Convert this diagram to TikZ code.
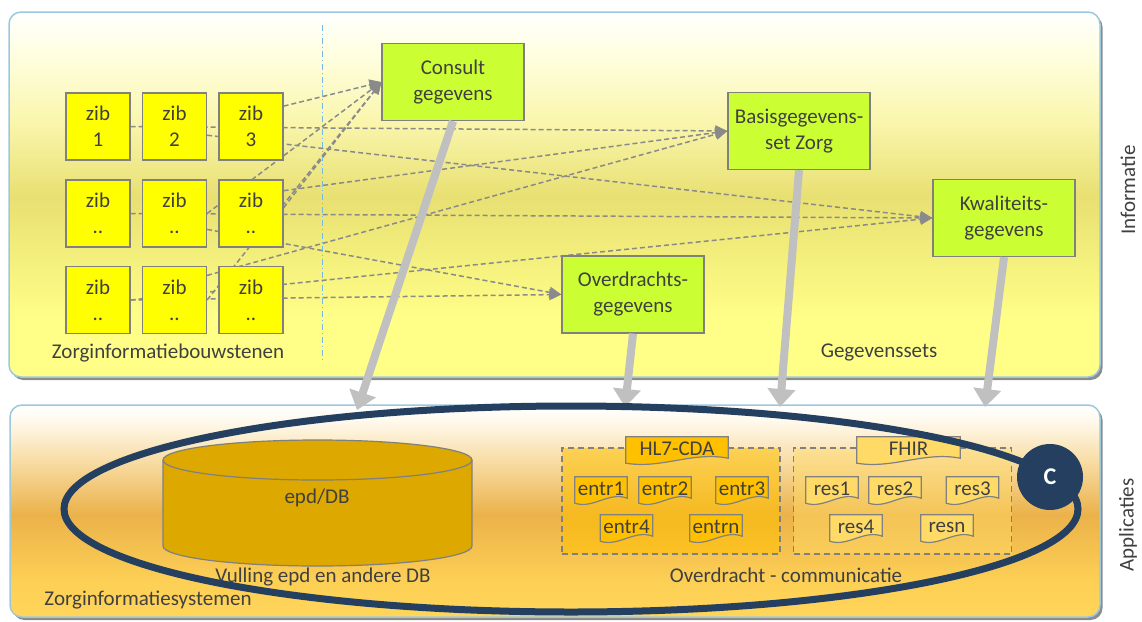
\documentclass[tikz,border=0pt]{standalone}
\usepackage{fontspec}
\setmainfont{Carlito}
\usepackage{xcolor}
\usetikzlibrary{positioning,calc,arrows.meta,shadows}

\definecolor{txtgray}{HTML}{404040}
\definecolor{zibyellow}{HTML}{FFFF00}
\definecolor{setgreen}{HTML}{CCFF33}
\definecolor{edgegray}{HTML}{808080}
\definecolor{linkgray}{HTML}{8A8A8A}
\definecolor{fatgray}{HTML}{C0C0C0}
\definecolor{navy}{HTML}{243F60}
\definecolor{dbgold}{HTML}{DDA800}
\definecolor{hlgold}{HTML}{FFC000}
\definecolor{fhirgold}{HTML}{FFDA66}
\definecolor{panelblue}{HTML}{9CC8DE}
\definecolor{sepblue}{HTML}{74B9E6}
\definecolor{infoA}{HTML}{FFFF88}
\definecolor{infoB}{HTML}{E8E072}
\definecolor{infoC}{HTML}{FAF6AE}
\definecolor{infoD}{HTML}{FFFFE4}
\definecolor{appA}{HTML}{FFD55A}
\definecolor{appB}{HTML}{FDCF55}
\definecolor{appC}{HTML}{EBB24A}
\definecolor{appD}{HTML}{F8DDA6}
\definecolor{appE}{HTML}{FFFAEE}

\pgfdeclareverticalshading{infoshade}{100bp}{color(0bp)=(infoA); color(25bp)=(infoA); color(32.8bp)=(infoA); color(49.7bp)=(infoB); color(60.2bp)=(infoC); color(69.8bp)=(infoD); color(75bp)=(white); color(100bp)=(white)}
\pgfdeclareverticalshading{appshade}{100bp}{color(0bp)=(appA); color(25bp)=(appA); color(33.7bp)=(appB); color(49.1bp)=(appC); color(62bp)=(appD); color(71.5bp)=(appE); color(75bp)=(white); color(100bp)=(white)}

\pgfdeclarelayer{back}
\pgfsetlayers{back,main}

\tikzset{
  panel/.style={draw=panelblue, line width=1.5pt, rounded corners=12pt,
    drop shadow={shadow xshift=2.5pt, shadow yshift=-3pt, opacity=0.45, fill=black}},
  zib/.style={draw=edgegray, fill=zibyellow, line width=1.2pt, minimum width=64pt,
    minimum height=67pt, align=center, text=txtgray},
  gset/.style={draw=edgegray, fill=setgreen, line width=1.2pt, minimum width=142pt,
    minimum height=77pt, align=center, text=txtgray},
  link/.style={linkgray, line width=1.5pt, dash pattern=on 5pt off 3pt,
    -{Triangle[length=12pt,width=11pt]}},
  feed/.style={fatgray, line width=8pt, -{Triangle[length=18pt,width=27pt]}},
  grp/.style={draw=edgegray, line width=1.5pt, dash pattern=on 6pt off 4pt,
    minimum width=218pt, minimum height=106pt, inner sep=0pt},
  doc/.style={minimum width=52pt, minimum height=24pt, inner sep=2pt, text=txtgray},
  lbl/.style={text=txtgray},
}

\newcommand{\docshape}[2]{%
  \draw[edgegray, line width=1.2pt, fill=#2] (#1.north west) -- (#1.north east)
    -- ($(#1.south east)+(0,-3)$)
    .. controls ($(#1.south east)!0.35!(#1.south west)+(0,-10)$)
    and ($(#1.south east)!0.65!(#1.south west)+(0,8)$) .. ($(#1.south west)+(0,2)$)
    -- cycle;}

\begin{document}
\begin{tikzpicture}[x=1pt, y=-1pt, font=\fontsize{21}{26}\selectfont]
  \useasboundingbox (0,0) rectangle (1142,621);

  % panels
  \begin{pgfonlayer}{back}
    \shade[panel, shading=infoshade] (9,12) rectangle (1100,377);
    \shade[panel, shading=appshade] (10,405) rectangle (1100,617);
    \draw[sepblue, line width=1pt, dash pattern=on 6pt off 3pt on 1pt off 3pt] (322,25) -- (322,360);
    % database
    \filldraw[fill=dbgold, draw=edgegray, line width=1.2pt] (163,460) -- (163,546)
      arc[start angle=180, end angle=360, x radius=154.5pt, y radius=20pt]
      -- (472,460) arc[start angle=0, end angle=180, x radius=154.5pt, y radius=20pt] -- cycle;
    \draw[edgegray, line width=1.2pt] (163,460)
      arc[start angle=180, end angle=360, x radius=154.5pt, y radius=20pt];
    % message groups
    \node[grp, fill=hlgold, fill opacity=0.55] (hl7grp) at (671,501) {};
    \node[grp, fill=fhirgold, fill opacity=0.45] (fhirgrp) at (902.5,501) {};
  \end{pgfonlayer}

  % zib layer
  \foreach \c/\x in {1/98,2/174.5,3/251}
    \node[zib] (zib-1-\c) at (\x,126.5) {zib\\\c};
  \foreach \r/\y in {2/213.5,3/300}
    \foreach \c/\x in {1/98,2/174.5,3/251}
      \node[zib] (zib-\r-\c) at (\x,\y) {zib\\..};

  % dataset layer
  \node[gset] (consult) at (453,82) {Consult\\gegevens};
  \node[gset] (basis) at (799,131) {Basisgegevens-\\set Zorg};
  \node[gset] (kwal) at (1004,218) {Kwaliteits-\\gegevens};
  \node[gset] (overd) at (633,294.5) {Overdrachts-\\gegevens};

  \node[lbl] (zibtxt) at (168,353) {Zorginformatiebouwstenen};
  \node[lbl] (settxt) at (879,352) {Gegevenssets};
  \node[lbl, rotate=90] (info) at (1128,190) {Informatie};
  \node[lbl, rotate=90] (appl) at (1128,525) {Applicaties};

  % application layer
  \node[lbl] (db) at (317,498) {epd/DB};
  \node[lbl] (dbtxt) at (323,577) {Vulling epd en andere DB};
  \node[lbl] (systxt) at (148,600) {Zorginformatiesystemen};
  \node[lbl] (comtxt) at (786,575) {Overdracht - communicatie};

  \node[doc, minimum width=102pt] (hltab) at (677,449) {HL7-CDA};
  \node[doc] (entr1) at (601,489) {entr1};
  \node[doc] (entr2) at (665,489) {entr2};
  \node[doc] (entr3) at (742,489) {entr3};
  \node[doc] (entr4) at (626.5,527) {entr4};
  \node[doc] (entrn) at (716,527) {entrn};

  \node[doc, minimum width=103pt] (fhirtab) at (908.5,449) {FHIR};
  \node[doc] (res1) at (832,489) {res1};
  \node[doc] (res2) at (895,489) {res2};
  \node[doc] (res3) at (972.5,489) {res3};
  \node[doc] (res4) at (856,527) {res4};
  \node[doc] (resn) at (947,527) {resn};

  % links
  \begin{pgfonlayer}{back}
    \foreach \n/\f in {hltab/hlgold,entr1/hlgold,entr2/hlgold,entr3/hlgold,entr4/hlgold,entrn/hlgold,
      fhirtab/fhirgold,res1/fhirgold,res2/fhirgold,res3/fhirgold,res4/fhirgold,resn/fhirgold}
      \docshape{\n}{\f};
    \foreach \s in {zib-1-3.32,zib-2-2.east,zib-2-3.10,zib-3-2.east}
      \draw[link] (\s) -- (consult.west);
    \foreach \s in {zib-1-1.east,zib-2-3.35,zib-3-2.37}
      \draw[link] (\s) -- (basis.west);
    \foreach \s in {zib-1-2.-15,zib-2-1.east,zib-3-1.east}
      \draw[link] (\s) -- (kwal.west);
    \foreach \s in {zib-2-2.-26,zib-3-1.east}
      \draw[link] (\s) -- (overd.west);
  \end{pgfonlayer}

  % arrows down
  \coordinate (cin) at (357,410);
  \coordinate (oin) at (625,407);
  \coordinate (bin) at (780,407);
  \coordinate (kin) at (985,407);
  \draw[feed] (consult.south) -- (cin);
  \draw[feed] (overd.south) -- (oin);
  \draw[feed] (basis.south) -- (bin);
  \draw[feed] (kwal.south) -- (kin);

  % C loop
  \draw[navy, line width=7pt] (571,509) ellipse [x radius=507pt, y radius=103pt];
  \node[circle, fill=navy, minimum size=66pt, text=white, font=\fontsize{24}{28}\selectfont\bfseries] (cnode) at (1050,477) {C};

\end{tikzpicture}
\end{document}
